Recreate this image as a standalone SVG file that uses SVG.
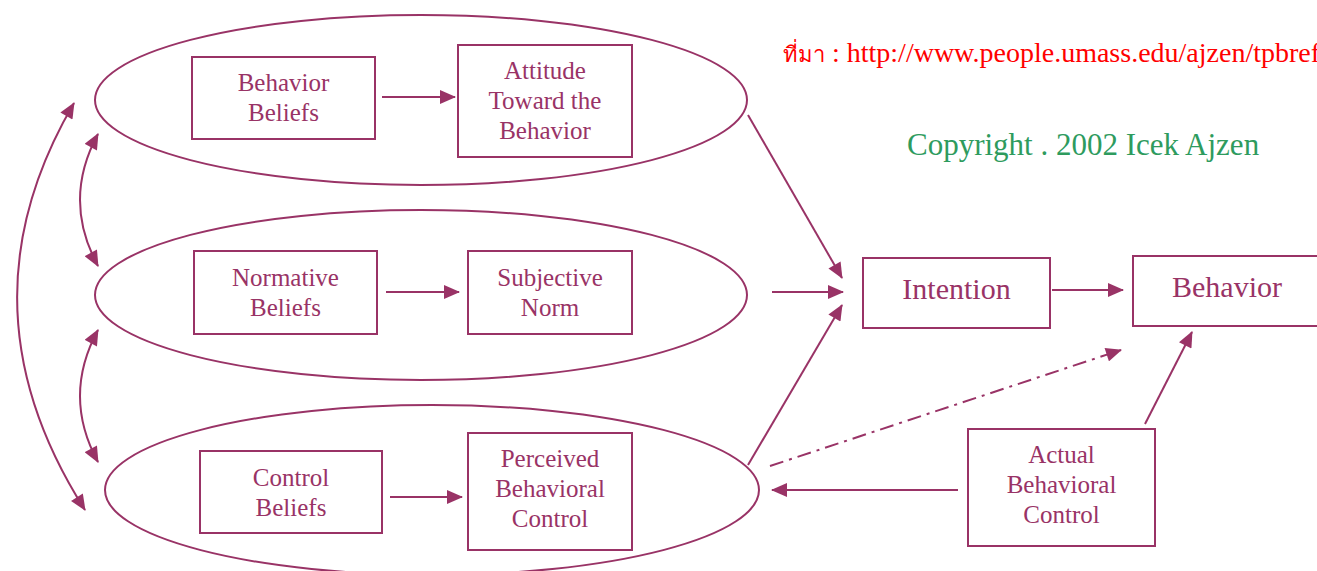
<svg xmlns="http://www.w3.org/2000/svg" width="1317" height="571" viewBox="0 0 1317 571">
<defs>
<style>
.sh{fill:none;stroke:#993366;stroke-width:2}
.ln{fill:none;stroke:#993366;stroke-width:2}
.t{font-family:"Liberation Serif","Times New Roman",serif;fill:#993366;font-size:25px;text-anchor:middle}
.big{font-size:30px}
</style>
<marker id="ah" viewBox="0 0 16 14" refX="15" refY="7" markerWidth="17" markerHeight="14" markerUnits="userSpaceOnUse" orient="auto-start-reverse">
<path d="M0,0 L16,7 L0,14 z" fill="#993366"/>
</marker>
</defs>
<rect width="1317" height="571" fill="#fff"/>
<g id="ellipse-attitude"><ellipse class="sh" cx="421" cy="100" rx="326" ry="85"/></g>
<g id="ellipse-norm"><ellipse class="sh" cx="421" cy="295" rx="326" ry="85"/></g>
<g id="ellipse-control"><ellipse class="sh" cx="432" cy="490" rx="327" ry="85"/></g>
<g id="behavior-beliefs"><rect class="sh" x="192" y="57" width="183" height="82"/><text class="t" x="283.5" y="91">Behavior</text><text class="t" x="283.5" y="121">Beliefs</text></g>
<g id="attitude"><rect class="sh" x="458" y="45" width="174" height="112"/><text class="t" x="545" y="79">Attitude</text><text class="t" x="545" y="109">Toward the</text><text class="t" x="545" y="139">Behavior</text></g>
<g id="normative-beliefs"><rect class="sh" x="194" y="251" width="183" height="83"/><text class="t" x="285.5" y="286">Normative</text><text class="t" x="285.5" y="316">Beliefs</text></g>
<g id="subjective-norm"><rect class="sh" x="468" y="251" width="164" height="83"/><text class="t" x="550" y="286">Subjective</text><text class="t" x="550" y="316">Norm</text></g>
<g id="control-beliefs"><rect class="sh" x="200" y="451" width="182" height="82"/><text class="t" x="291" y="486">Control</text><text class="t" x="291" y="516">Beliefs</text></g>
<g id="perceived-control"><rect class="sh" x="468" y="433" width="164" height="117"/><text class="t" x="550" y="467">Perceived</text><text class="t" x="550" y="497">Behavioral</text><text class="t" x="550" y="527">Control</text></g>
<g id="intention"><rect class="sh" x="863" y="258" width="187" height="70"/><text class="t big" x="956.5" y="299">Intention</text></g>
<g id="behavior"><rect class="sh" x="1133" y="256" width="190" height="70"/><text class="t big" x="1227" y="297">Behavior</text></g>
<g id="actual-control"><rect class="sh" x="968" y="429" width="187" height="117"/><text class="t" x="1061.5" y="463">Actual</text><text class="t" x="1061.5" y="493">Behavioral</text><text class="t" x="1061.5" y="523">Control</text></g>
<g id="connectors">
<line class="ln" x1="382" y1="97" x2="455" y2="97" marker-end="url(#ah)"/>
<line class="ln" x1="386" y1="292" x2="459" y2="292" marker-end="url(#ah)"/>
<line class="ln" x1="390" y1="497" x2="462" y2="497" marker-end="url(#ah)"/>
<line class="ln" x1="748" y1="115" x2="842" y2="278" marker-end="url(#ah)"/>
<line class="ln" x1="772" y1="292" x2="843" y2="292" marker-end="url(#ah)"/>
<line class="ln" x1="748" y1="465" x2="842" y2="305" marker-end="url(#ah)"/>
<line class="ln" x1="1052" y1="290" x2="1123" y2="290" marker-end="url(#ah)"/>
<line class="ln" x1="770" y1="466" x2="1121" y2="350" stroke-dasharray="14,6,3,6" marker-end="url(#ah)"/>
<line class="ln" x1="958" y1="490" x2="772" y2="490" marker-end="url(#ah)"/>
<line class="ln" x1="1145" y1="424" x2="1192" y2="332" marker-end="url(#ah)"/>
<path class="ln" d="M74,103 Q-45,306 85,510" marker-start="url(#ah)" marker-end="url(#ah)"/>
<path class="ln" d="M98,134 Q62,200 98,266" marker-start="url(#ah)" marker-end="url(#ah)"/>
<path class="ln" d="M98,330 Q62,396 98,462" marker-start="url(#ah)" marker-end="url(#ah)"/>
</g>
<text x="783" y="62" font-family="'Liberation Serif','Noto Sans',serif" font-size="28" fill="#ff0000"><tspan font-size="22">ที่มา</tspan> : http://www.people.umass.edu/ajzen/tpbref</text>
<text x="907" y="155" font-family="'Liberation Serif','Times New Roman',serif" font-size="31" fill="#2e9b5e">Copyright . 2002 Icek Ajzen</text>
</svg>
